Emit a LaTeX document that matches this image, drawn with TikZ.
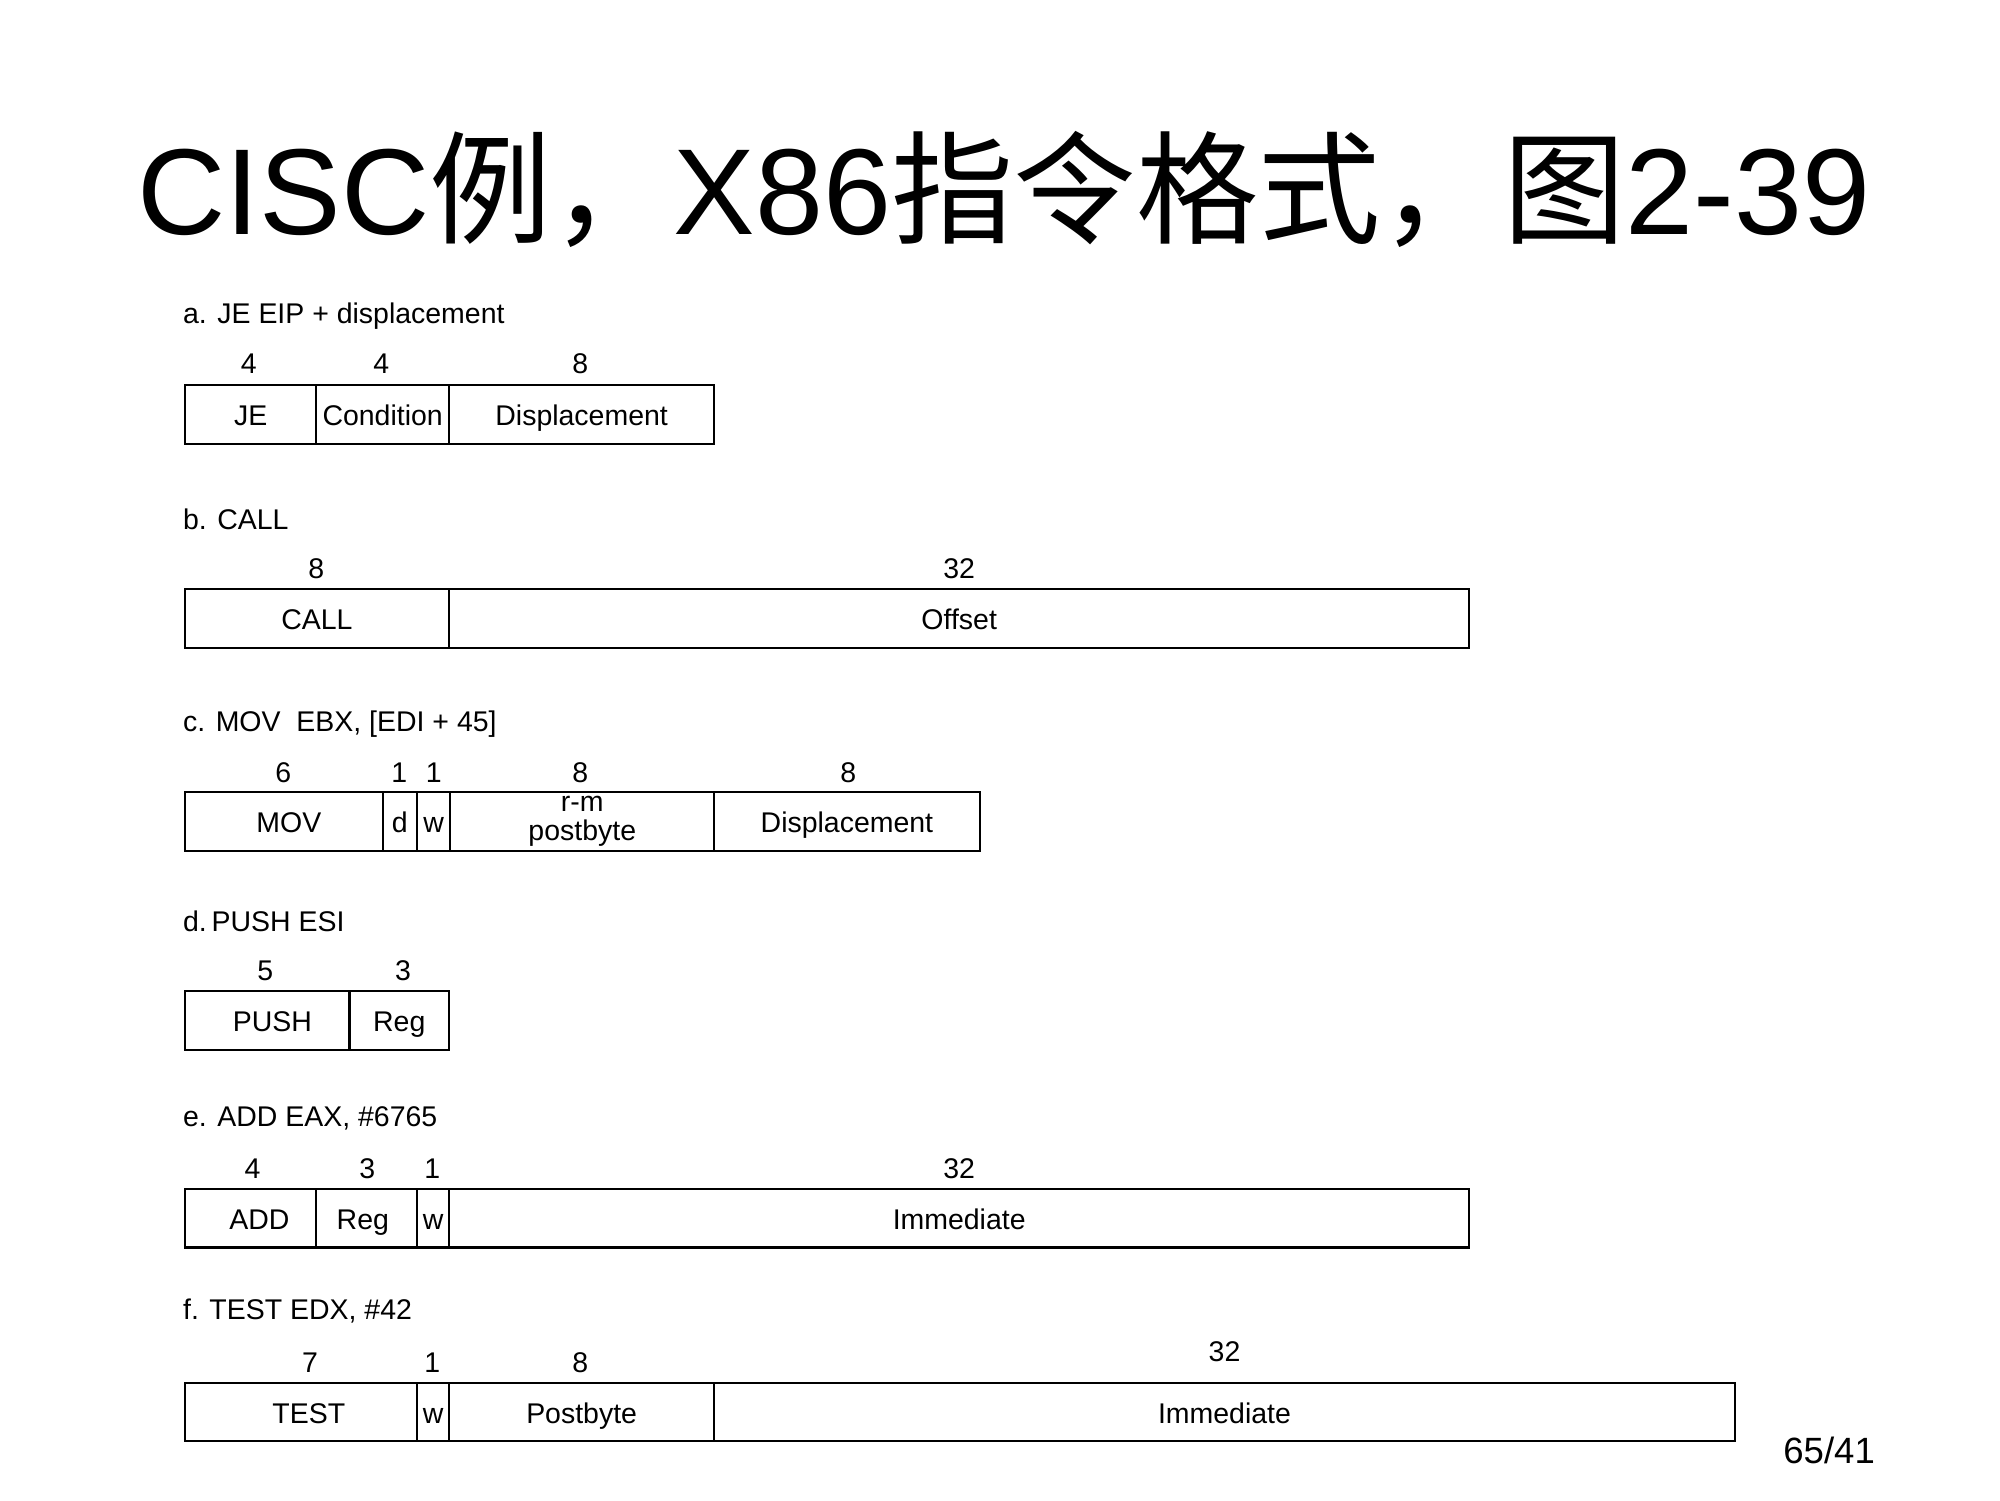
\documentclass[tikz,border=0pt]{standalone}
\usepackage{fontspec}
\setmainfont{Liberation Sans}
\newfontfamily\cjk{Noto Sans CJK SC}
\newcommand\fldfont{\fontsize{8.1}{8.2}\selectfont}
\tikzset{
  fld/.style={draw, line width=0.6pt, inner sep=0pt, font=\fldfont, align=center,
    text height=1.55ex, text depth=0.35ex},
  bits/.style={font=\fldfont, inner sep=0pt},
  caption/.style={font=\fldfont, anchor=west, inner sep=0pt},
}
\newcommand\fld[7][]{% [extra], name, x1, x2, ytop, ybottom, text
  \node[fld, #1, minimum width={(#4-#3)*0.012755cm}, minimum height={(#6-#5)*0.012755cm}]
    (#2) at ({(#3+#4)/2},{(#5+#6)/2}) {#7};}
\begin{document}
\begin{tikzpicture}[x=0.012755cm, y=-0.012755cm]
\useasboundingbox[fill=white] (0,0) rectangle (1568,1176);

% title
\node[anchor=base west, inner sep=0pt, font=\fontsize{34.8}{40}\selectfont] (title) at (107,184)
  {CISC{\cjk 例，}X86{\cjk 指令格式，图}2-39};

% a
\node[caption] (la) at (143,248) {a. JE EIP + displacement};
\fld{a1}{145}{248}{302}{348}{JE}
\fld{a2}{248}{352}{302}{348}{Condition}
\fld{a3}{352}{560}{302}{348}{Displacement}
\node[bits] (na1) at (195,285) {4};
\node[bits] (na2) at (299,285) {4};
\node[bits] (na3) at (455,285) {8};

% b
\node[caption] (lb) at (143,407) {b. CALL};
\fld{b1}{145}{352}{462}{508}{CALL}
\fld{b2}{352}{1152}{462}{508}{Offset}
\node[bits] (nb1) at (248,446) {8};
\node[bits] (nb2) at (752,446) {32};

% c
\node[caption] (lc) at (143,568) {c. MOV\ \ EBX, [EDI + 45]};
\fld{c1}{145}{300}{621}{667}{\kern2.9pt MOV}
\fld{c2}{300}{327}{621}{667}{d}
\fld{c3}{327}{353}{621}{667}{w}
\fld[text height=, text depth=]{c4}{353}{560}{621}{667}{r-m\\postbyte}
\fld{c5}{560}{768}{621}{667}{Displacement}
\node[bits] (nc1) at (222,606) {6};
\node[bits] (nc2) at (313,606) {1};
\node[bits] (nc3) at (340,606) {1};
\node[bits] (nc4) at (455,606) {8};
\node[bits] (nc5) at (665,606) {8};

% d
\node[caption] (ld) at (143,722) {d.\,PUSH ESI};
\fld{d1}{145}{274}{777}{823}{\kern2.9pt PUSH}
\fld{d2}{274}{352}{777}{823}{Reg}
\node[bits] (nd1) at (208,761) {5};
\node[bits] (nd2) at (316,761) {3};

% e
\node[caption] (le) at (143,877) {e. ADD EAX, \#6765};
\fld{e1}{145}{248}{932}{978}{\kern5pt ADD}
\fld{e2}{248}{327}{932}{978}{Reg\kern2.2pt}
\fld{e3}{327}{352}{932}{978}{w}
\fld{e4}{352}{1152}{932}{978}{Immediate}
\node[bits] (ne1) at (198,916) {4};
\node[bits] (ne2) at (288,916) {3};
\node[bits] (ne3) at (339,916) {1};
\node[bits] (ne4) at (752,916) {32};

% f
\node[caption] (lf) at (143,1028) {f. TEST EDX, \#42};
\fld{f1}{145}{327}{1084}{1130}{\kern4.4pt TEST}
\fld{f2}{327}{352}{1084}{1130}{w}
\fld{f3}{352}{560}{1084}{1130}{Postbyte}
\fld{f4}{560}{1360}{1084}{1130}{Immediate}
\node[bits] (nf1) at (243,1068) {7};
\node[bits] (nf2) at (339,1068) {1};
\node[bits] (nf3) at (455,1068) {8};
\node[bits] (nf4) at (960,1060) {32};

% page number
\node[inner sep=0pt, font=\fontsize{10.4}{12}\selectfont] (page) at (1434,1137) {65/41};
\end{tikzpicture}
\end{document}
